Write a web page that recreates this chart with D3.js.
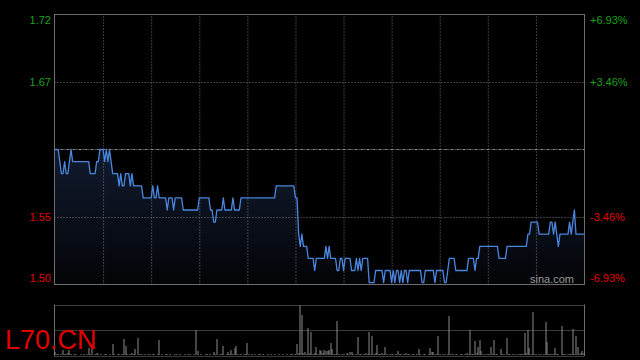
<!DOCTYPE html>
<html>
<head>
<meta charset="utf-8">
<script src="https://cdn.jsdelivr.net/npm/d3@7"></script>
<style>
  body { margin: 0; background: #000; }
  svg { display: block; font-family: "Liberation Sans", Arial, sans-serif; }
</style>
</head>
<body>
<div id="chart"></div>
<script>
// ticker + reference price
var symbol = "L70.CN";
var prevClose = 1.61;

// axis ticks (percent from previous close) and their labels
var pctTicks = [6.93, 3.46, -3.46, -6.93];
var pctLabels = ["+6.93%", "+3.46%", "-3.46%", "-6.93%"];
var priceLabels = ["1.72", "1.67", "1.55", "1.50"];

// one value per minute, 09:30 - 16:00 (330 trading minutes)
var prices = [
  1.61,1.61,1.61,1.60,1.59,1.59,1.60,1.59,1.59,1.60,
  1.61,1.60,1.60,1.60,1.60,1.60,1.60,1.60,1.60,1.60,
  1.60,1.60,1.59,1.59,1.59,1.59,1.60,1.60,1.61,1.61,
  1.61,1.60,1.61,1.60,1.61,1.60,1.59,1.59,1.59,1.59,
  1.58,1.59,1.58,1.58,1.59,1.59,1.59,1.58,1.59,1.58,
  1.58,1.58,1.58,1.58,1.58,1.57,1.57,1.57,1.57,1.57,
  1.57,1.58,1.57,1.57,1.58,1.57,1.57,1.57,1.57,1.57,
  1.56,1.57,1.57,1.57,1.56,1.57,1.57,1.57,1.57,1.57,
  1.56,1.56,1.56,1.56,1.56,1.56,1.56,1.56,1.56,1.56,
  1.57,1.57,1.57,1.57,1.57,1.57,1.57,1.56,1.56,1.55,
  1.55,1.56,1.56,1.56,1.56,1.57,1.56,1.56,1.56,1.56,
  1.56,1.57,1.56,1.56,1.56,1.56,1.57,1.57,1.57,1.57,
  1.57,1.57,1.57,1.57,1.57,1.57,1.57,1.57,1.57,1.57,
  1.57,1.57,1.57,1.57,1.57,1.57,1.57,1.57,1.58,1.58,
  1.58,1.58,1.58,1.58,1.58,1.58,1.58,1.58,1.58,1.58,
  1.57,1.57,1.54,1.53,1.54,1.53,1.53,1.53,1.52,1.52,
  1.52,1.52,1.51,1.52,1.52,1.52,1.52,1.52,1.52,1.53,
  1.52,1.53,1.52,1.52,1.52,1.52,1.51,1.51,1.52,1.52,
  1.51,1.52,1.52,1.52,1.52,1.51,1.51,1.51,1.52,1.51,
  1.52,1.51,1.52,1.52,1.52,1.52,1.50,1.50,1.50,1.50,
  1.51,1.51,1.51,1.51,1.51,1.50,1.51,1.51,1.51,1.51,
  1.50,1.51,1.50,1.51,1.51,1.50,1.51,1.50,1.51,1.51,
  1.50,1.51,1.51,1.51,1.51,1.51,1.51,1.51,1.51,1.50,
  1.50,1.51,1.51,1.51,1.51,1.51,1.51,1.50,1.51,1.51,
  1.51,1.51,1.51,1.50,1.50,1.51,1.52,1.52,1.52,1.52,
  1.51,1.51,1.51,1.51,1.51,1.51,1.51,1.51,1.52,1.52,
  1.52,1.52,1.51,1.52,1.52,1.53,1.53,1.53,1.53,1.53,
  1.53,1.53,1.53,1.53,1.53,1.53,1.53,1.52,1.52,1.52,
  1.52,1.52,1.53,1.53,1.53,1.53,1.53,1.53,1.53,1.53,
  1.53,1.53,1.53,1.53,1.53,1.54,1.54,1.55,1.55,1.55,
  1.55,1.55,1.54,1.54,1.54,1.54,1.54,1.54,1.54,1.55,
  1.55,1.54,1.55,1.54,1.53,1.54,1.54,1.54,1.54,1.54,
  1.54,1.55,1.54,1.55,1.56,1.54,1.54,1.54,1.54,1.54,
  1.54
];

// volume per minute (thousand shares)
var volumes = [
  3,1,1,0,1,5,1,1,2,5,
  1,0,1,1,0,0,1,0,1,0,
  1,7,1,10,0,1,2,1,0,1,
  0,1,1,0,1,0,11,1,0,1,
  1,0,1,16,9,1,0,1,2,1,
  6,0,17,1,1,0,1,0,1,1,
  0,1,1,0,1,15,0,1,0,1,
  1,0,1,0,0,1,1,0,1,0,
  0,1,0,1,1,0,0,1,25,4,
  0,1,0,0,1,1,0,1,0,3,
  1,16,0,1,1,9,0,1,3,1,
  5,1,7,9,1,0,1,0,1,1,
  12,1,0,1,0,1,0,1,1,0,
  1,0,0,1,0,1,0,1,0,0,
  1,0,1,0,0,1,0,1,1,0,
  1,11,2,50,40,2,3,1,27,2,
  23,1,2,8,1,5,4,2,5,4,
  4,5,12,6,1,1,34,1,0,1,
  1,0,2,1,3,3,1,0,1,18,
  1,1,0,1,2,1,23,1,19,1,
  2,10,1,1,2,1,8,1,0,1,
  1,1,0,1,4,1,1,0,1,2,
  1,1,0,1,1,0,1,6,1,0,
  1,1,0,1,7,3,3,1,1,19,
  1,0,1,1,0,1,39,1,1,0,
  1,1,0,1,1,0,1,2,1,25,
  1,1,14,2,8,15,4,1,0,1,
  1,1,8,1,15,1,1,0,6,1,
  1,0,17,1,1,0,1,1,0,1,
  1,1,1,22,2,25,7,1,43,1,
  1,0,1,1,0,1,33,13,1,1,
  1,1,7,1,1,0,29,1,1,0,
  1,1,1,26,1,19,8,1,2,4,
  2
];

var svgWidth = 640, svgHeight = 360;
var plot = { left: 54.5, right: 584.5, top: 14.5, bottom: 284.5 };
var volBox = { top: 304.5, bottom: 355 };
var green = "#1aa01a", red = "#e00000";

var svg = d3.select("#chart").append("svg")
    .attr("width", svgWidth)
    .attr("height", svgHeight);

// scales
var x = d3.scaleLinear().domain([0, 330]).range([plot.left + 0.5, plot.right - 0.5]);
var y = d3.scaleLinear()
    .domain([prevClose * (1 - 0.0693), prevClose * (1 + 0.0693)])
    .range([plot.bottom, plot.top]);
var yVol = d3.scaleLinear().domain([0, 50]).range([volBox.bottom, volBox.top + 0.5]).clamp(true);

// gradient under the price line
var grad = svg.append("defs").append("linearGradient")
    .attr("id", "areaFill").attr("x1", 0).attr("y1", 0).attr("x2", 0).attr("y2", 1);
grad.append("stop").attr("offset", "0%").attr("stop-color", "#111b2e");
grad.append("stop").attr("offset", "100%").attr("stop-color", "#030407");

svg.append("path")
    .datum(prices)
    .attr("fill", "url(#areaFill)")
    .attr("d", d3.area().x((d, i) => x(i)).y0(plot.bottom).y1(d => y(d)));

// vertical grid every 30 minutes
svg.append("g")
    .attr("class", "x-grid")
    .attr("transform", `translate(0, ${plot.bottom})`)
    .call(d3.axisBottom(x).tickValues(d3.range(30, 330, 30)).tickSize(-(plot.bottom - plot.top)).tickFormat(""))
    .call(g => g.select(".domain").remove())
    .call(g => g.selectAll("line").attr("stroke", "#777").attr("stroke-dasharray", "1,2"));

// horizontal grid at +/-3.46%
svg.append("g")
    .selectAll("line")
    .data([pctTicks[1], pctTicks[2]])
    .enter()
    .append("line")
    .attr("x1", plot.left).attr("x2", plot.right)
    .attr("y1", d => Math.round(y(prevClose * (1 + d / 100))) + 0.5)
    .attr("y2", d => Math.round(y(prevClose * (1 + d / 100))) + 0.5)
    .attr("stroke", "#777")
    .attr("stroke-dasharray", "1,2");

// previous close line
svg.append("line")
    .attr("x1", plot.left).attr("x2", plot.right)
    .attr("y1", Math.round(y(prevClose)) + 0.5)
    .attr("y2", Math.round(y(prevClose)) + 0.5)
    .attr("stroke", "#888")
    .attr("stroke-dasharray", "3,1,1,1");

// price line
svg.append("path")
    .datum(prices)
    .attr("fill", "none")
    .attr("stroke", "#4a86e0")
    .attr("stroke-width", 1.3)
    .attr("stroke-linejoin", "round")
    .attr("d", d3.line().x((d, i) => x(i)).y(d => y(d)));

// frame
svg.append("rect")
    .attr("x", plot.left).attr("y", plot.top)
    .attr("width", plot.right - plot.left).attr("height", plot.bottom - plot.top)
    .attr("fill", "none").attr("stroke", "#6e6e6e");

// left price labels / right percent labels
function labelY(d, i) {
    if (i === 0) return plot.top + 9.5;
    if (i === pctTicks.length - 1) return plot.bottom - 2.5;
    return y(prevClose * (1 + d / 100)) + 4;
}
svg.append("g")
    .selectAll("text")
    .data(pctTicks)
    .enter()
    .append("text")
    .attr("x", 51)
    .attr("y", labelY)
    .attr("text-anchor", "end")
    .attr("font-size", "11px")
    .attr("fill", d => d > 0 ? green : red)
    .text((d, i) => priceLabels[i]);

svg.append("g")
    .selectAll("text")
    .data(pctTicks)
    .enter()
    .append("text")
    .attr("x", 590)
    .attr("y", labelY)
    .attr("font-size", "11px")
    .attr("fill", d => d > 0 ? green : red)
    .text((d, i) => pctLabels[i]);

svg.append("text")
    .attr("x", 574)
    .attr("y", 283)
    .attr("text-anchor", "end")
    .attr("font-size", "11px")
    .attr("fill", "#9a9a9a")
    .text("sina.com");

// volume panel
var volGroup = svg.append("g").attr("class", "volume");
volGroup.selectAll("line.grid")
    .data([volBox.top, (volBox.top + volBox.bottom) / 2 + 0.25, volBox.bottom + 0.5])
    .enter()
    .append("line")
    .attr("class", "grid")
    .attr("x1", plot.left).attr("x2", plot.right)
    .attr("y1", d => Math.round(d) + 0.5).attr("y2", d => Math.round(d) + 0.5)
    .attr("stroke", "#777")
    .attr("stroke-dasharray", "1,1");

volGroup.selectAll("line.side")
    .data([plot.left, plot.right])
    .enter()
    .append("line")
    .attr("class", "side")
    .attr("x1", d => d).attr("x2", d => d)
    .attr("y1", volBox.top).attr("y2", volBox.bottom + 1)
    .attr("stroke", "#6e6e6e");

volGroup.selectAll("rect")
    .data(volumes)
    .enter()
    .append("rect")
    .attr("x", (d, i) => Math.round(x(i)) - 0.5)
    .attr("y", d => yVol(d))
    .attr("width", 1)
    .attr("height", d => volBox.bottom - yVol(d))
    .attr("fill", "#8a8a8a");

// ticker
svg.append("text")
    .attr("x", 5)
    .attr("y", 349)
    .attr("font-size", "27px")
    .attr("fill", red)
    .text(symbol);
</script>
</body>
</html>
